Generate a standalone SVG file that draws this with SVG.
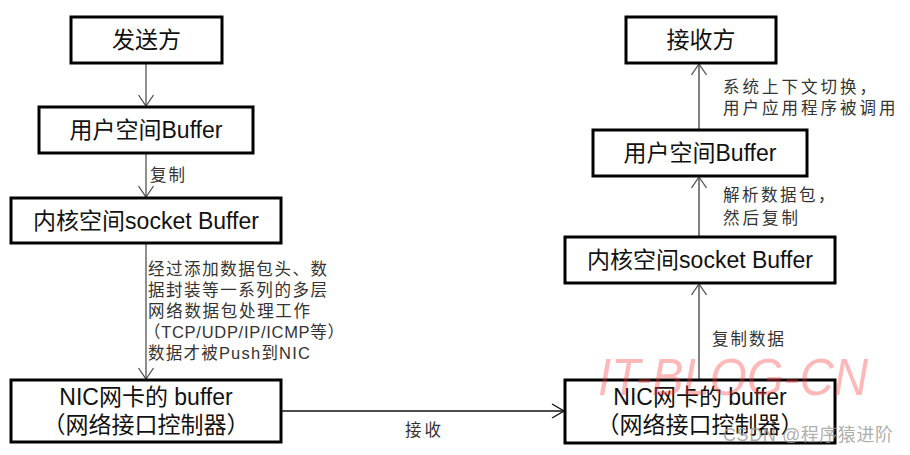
<svg xmlns="http://www.w3.org/2000/svg" width="910" height="455" viewBox="0 0 910 455">
<style>
.box{fill:#fff;stroke:#000;stroke-width:3}
.bt{font-family:"Liberation Sans","Noto Sans CJK SC",sans-serif;font-size:23px;fill:#111;text-anchor:middle;dominant-baseline:central}
.an{font-family:"Liberation Sans","Noto Sans CJK SC",sans-serif;font-size:16.5px;fill:#333;dominant-baseline:central}
.lc{stroke:#444;stroke-width:1.2;fill:none}
.rc{stroke:#808080;stroke-width:2;fill:none}
.hc{stroke:#111;stroke-width:1.5;fill:none}
</style>
<defs>
<marker id="ad" viewBox="-13 -8 14 16" refX="0" refY="0" markerWidth="14" markerHeight="16" markerUnits="userSpaceOnUse" orient="auto">
<path d="M-11,-7.5 L0,0 L-11,7.5" fill="none" stroke="#444" stroke-width="1.2"/>
</marker>
<marker id="ag" viewBox="-13 -8 14 16" refX="0" refY="0" markerWidth="14" markerHeight="16" markerUnits="userSpaceOnUse" orient="auto">
<path d="M-11,-7.5 L0,0 L-11,7.5" fill="none" stroke="#555" stroke-width="1.3"/>
</marker>
<marker id="ah" viewBox="-13 -8 14 16" refX="0" refY="0" markerWidth="14" markerHeight="16" markerUnits="userSpaceOnUse" orient="auto">
<path d="M-12,-7 L0,0 L-12,7" fill="none" stroke="#111" stroke-width="1.3"/>
</marker>
</defs>
<g id="connectors">
<line class="lc" x1="146" y1="64" x2="146" y2="106" marker-end="url(#ad)"/>
<line class="lc" x1="146" y1="154" x2="146" y2="197" marker-end="url(#ad)"/>
<line class="lc" x1="146" y1="244" x2="146" y2="379" marker-end="url(#ad)"/>
<line class="hc" x1="282" y1="411" x2="564" y2="411" marker-end="url(#ah)"/>
<line class="rc" x1="699" y1="379" x2="699" y2="284" marker-end="url(#ag)"/>
<line class="rc" x1="699" y1="236" x2="699" y2="177" marker-end="url(#ag)"/>
<line class="rc" x1="699" y1="129" x2="699" y2="64" marker-end="url(#ag)"/>
<text class="an" x="150" y="175" letter-spacing="2">复制</text>
<text class="an" x="148" y="269" textLength="179" lengthAdjust="spacing">经过添加数据包头、数</text>
<text class="an" x="148" y="290" textLength="179" lengthAdjust="spacing">据封装等一系列的多层</text>
<text class="an" x="148" y="311" textLength="162" lengthAdjust="spacing">网络数据包处理工作</text>
<text class="an" x="144" y="332" textLength="200" lengthAdjust="spacing">（TCP/UDP/IP/ICMP等）</text>
<text class="an" x="148" y="353" textLength="162" lengthAdjust="spacing">数据才被Push到NIC</text>
<text class="an" x="405" y="430" letter-spacing="3">接收</text>
<text class="an" x="723" y="87" letter-spacing="3">系统上下文切换，</text>
<text class="an" x="723" y="108" letter-spacing="3">用户应用程序被调用</text>
<text class="an" x="723" y="195" letter-spacing="2.5">解析数据包，</text>
<text class="an" x="723" y="218" letter-spacing="3">然后复制</text>
<text class="an" x="712" y="339" letter-spacing="2">复制数据</text>
</g>
<g id="sender">
<rect class="box" x="71" y="17" width="151" height="46"/>
<text class="bt" x="146.5" y="40">发送方</text>
</g>
<g id="user-buffer-left">
<rect class="box" x="39" y="107" width="214" height="46"/>
<text class="bt" x="146" y="130">用户空间Buffer</text>
</g>
<g id="kernel-buffer-left">
<rect class="box" x="11" y="198" width="270" height="45"/>
<text class="bt" x="146" y="220.5">内核空间socket Buffer</text>
</g>
<g id="nic-left">
<rect class="box" x="11" y="380" width="270" height="62"/>
<text class="bt" x="146" y="397">NIC网卡的 buffer</text>
<text class="bt" x="146" y="425">（网络接口控制器）</text>
</g>
<g id="receiver">
<rect class="box" x="626" y="17" width="150" height="46"/>
<text class="bt" x="701" y="40">接收方</text>
</g>
<g id="user-buffer-right">
<rect class="box" x="593" y="130" width="214" height="46"/>
<text class="bt" x="700" y="153">用户空间Buffer</text>
</g>
<g id="kernel-buffer-right">
<rect class="box" x="565" y="237" width="270" height="46"/>
<text class="bt" x="700" y="260">内核空间socket Buffer</text>
</g>
<g id="nic-right">
<rect class="box" x="565" y="380" width="270" height="63"/>
<text class="bt" x="700" y="397">NIC网卡的 buffer</text>
<text class="bt" x="700" y="425">（网络接口控制器）</text>
</g>
<g id="watermarks">
<text x="598" y="395" font-family="'Liberation Sans',sans-serif" font-style="italic" font-size="52" fill="#ff3333" fill-opacity="0.35" textLength="270" lengthAdjust="spacingAndGlyphs">IT-BLOG-CN</text>
<text x="723" y="441" font-family="'Liberation Sans','Noto Sans CJK SC',sans-serif" font-size="18" fill="#999" fill-opacity="0.8" textLength="170" lengthAdjust="spacing">CSDN @程序猿进阶</text>
</g>
</svg>
